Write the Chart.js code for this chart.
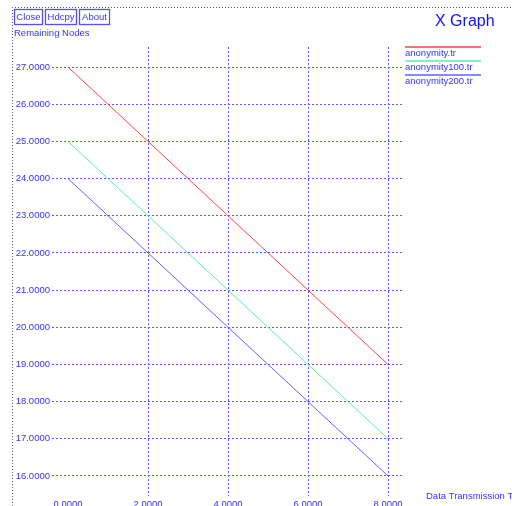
<!DOCTYPE html>
<html>
<head>
<meta charset="utf-8">
<script src="https://cdn.jsdelivr.net/npm/chart.js@4/dist/chart.umd.min.js"></script>
<style>
html,body{margin:0;padding:0;background:#fff;overflow:hidden;}
#wrap{position:relative;width:512px;height:506px;}
</style>
</head>
<body>
<div id="wrap"><canvas id="c" width="512" height="506"></canvas></div>
<script>
const xValues = [0, 2, 4, 6, 8];
const anonymity = [27, 25, 23, 21, 19];
const anonymity100 = [25, 23, 21, 19, 17];
const anonymity200 = [24, 22, 20, 18, 16];
const seriesNames = ['anonymity.tr', 'anonymity100.tr', 'anonymity200.tr'];
const xTicks = [0, 2, 4, 6, 8];
const yTicks = [16, 17, 18, 19, 20, 21, 22, 23, 24, 25, 26, 27];
const buttons = ['Close', 'Hdcpy', 'About'];
const yTitle = 'Remaining Nodes';
const xTitle = 'Data Transmission Time';
const chartTitle = 'X Graph';

const colors = ['#ff4040', '#50f0b0', '#6060ff'];
const textColor = '#3434ff';
const gridColor = '#5a5aff';
const FONT = '"Liberation Sans", Arial, sans-serif';

function pts(ys) { return xValues.map((x, i) => ({x: x, y: ys[i]})); }

const decor = {
  id: 'decor',
  afterDraw(chart) {
    const ctx = chart.ctx;
    const xs = chart.scales.x, ys = chart.scales.y;
    ctx.save();
    // dotted window border
    ctx.strokeStyle = '#555';
    ctx.lineWidth = 1;
    ctx.setLineDash([1, 2]);
    ctx.beginPath();
    ctx.moveTo(12.5, 506); ctx.lineTo(12.5, 7.5); ctx.lineTo(512, 7.5);
    ctx.stroke();
    ctx.setLineDash([]);
    // buttons
    ctx.font = '9.5px ' + FONT;
    ctx.textBaseline = 'middle';
    ctx.textAlign = 'center';
    const bx = [[14, 42], [45, 76], [79, 109]];
    buttons.forEach((b, i) => {
      ctx.strokeStyle = '#5050ff';
      ctx.lineWidth = 1.3;
      ctx.strokeRect(bx[i][0] + 0.5, 9.5, bx[i][1] - bx[i][0], 15);
      ctx.fillStyle = textColor;
      ctx.fillText(b, (bx[i][0] + bx[i][1]) / 2 + 0.5, 17.5);
    });
    // y axis title
    ctx.textAlign = 'left';
    ctx.fillText(yTitle, 14, 33);
    // chart title
    ctx.fillStyle = '#1010ff';
    ctx.font = '16px ' + FONT;
    ctx.fillText(chartTitle, 435, 22);
    // y tick labels
    ctx.fillStyle = textColor;
    ctx.font = '9.5px ' + FONT;
    ctx.textAlign = 'right';
    yTicks.forEach(v => {
      ctx.fillText(v.toFixed(4), 50, ys.getPixelForValue(v));
    });
    // x tick labels
    ctx.textAlign = 'center';
    ctx.textBaseline = 'top';
    xTicks.forEach(v => {
      ctx.fillText(v.toFixed(4), xs.getPixelForValue(v), 500);
    });
    // x title
    ctx.textAlign = 'left';
    ctx.textBaseline = 'middle';
    ctx.fillText(xTitle, 426, 496);
    // legend
    const ly = [47, 61, 75];
    seriesNames.forEach((n, i) => {
      ctx.strokeStyle = colors[i];
      ctx.lineWidth = 1.6;
      ctx.beginPath();
      ctx.moveTo(405, ly[i]); ctx.lineTo(481, ly[i]);
      ctx.stroke();
      ctx.fillStyle = textColor;
      ctx.textBaseline = 'middle';
      ctx.fillText(n, 405, ly[i] + 6);
    });
    ctx.restore();
  }
};

new Chart(document.getElementById('c'), {
  type: 'line',
  data: {
    datasets: [
      {label: seriesNames[0], data: pts(anonymity), borderColor: colors[0]},
      {label: seriesNames[1], data: pts(anonymity100), borderColor: colors[1]},
      {label: seriesNames[2], data: pts(anonymity200), borderColor: colors[2]}
    ].map(d => Object.assign(d, {borderWidth: 1, pointRadius: 0, tension: 0, fill: false}))
  },
  options: {
    responsive: false,
    animation: false,
    layout: {padding: {left: 52, right: 108, top: 47, bottom: 10}},
    plugins: {legend: {display: false}, tooltip: {enabled: false}},
    scales: {
      x: {
        type: 'linear', min: -0.4, max: 8.4,
        afterBuildTicks: s => { s.ticks = xTicks.map(v => ({value: v})); },
        ticks: {display: false},
        grid: {drawTicks: false, lineWidth: 1,
          color: c => (c.tick && c.tick.value === 0) ? 'rgba(0,0,0,0)' : gridColor},
        border: {display: false, dash: [2, 2]}
      },
      y: {
        type: 'linear', min: 15.46, max: 27.54,
        afterBuildTicks: s => { s.ticks = yTicks.map(v => ({value: v})); },
        ticks: {display: false},
        grid: {drawTicks: false, lineWidth: 1, color: gridColor},
        border: {display: false, dash: [2, 2]}
      }
    }
  },
  plugins: [decor]
});
</script>
</body>
</html>
